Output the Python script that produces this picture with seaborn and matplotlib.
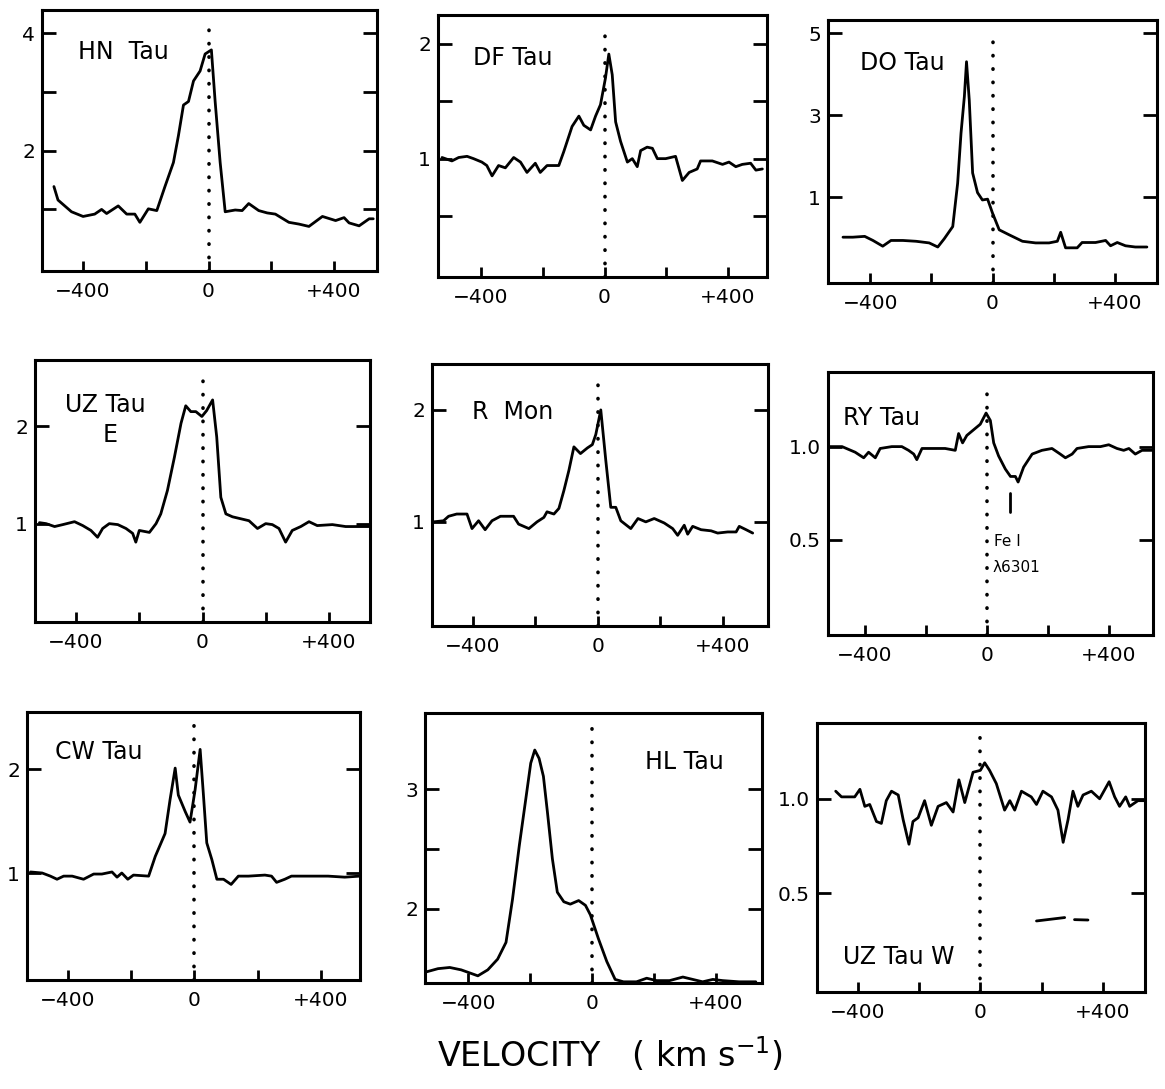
import matplotlib
matplotlib.use("Agg")
import matplotlib.pyplot as plt
import seaborn as sns
import pandas as pd

# ==============================
# Data: line profiles (velocity in km/s, normalised flux)
# ==============================
hn_v = [-493, -480, -437, -400, -363, -341, -325, -288, -261, -235, -219, -192, -165, -139, -112, -96,
        -80, -64, -48, -27, -11, 9, 21, 37, 53, 85, 107, 128, 160, 187, 213, 256, 288, 320, 363, 405,
        432, 448, 480, 512, 525]
hn_f = [1.39, 1.16, 0.96, 0.88, 0.92, 1.00, 0.93, 1.06, 0.92, 0.92, 0.78, 1.01, 0.98, 1.39, 1.80, 2.26,
        2.78, 2.84, 3.19, 3.36, 3.65, 3.72, 2.84, 1.80, 0.96, 0.99, 0.98, 1.10, 0.98, 0.94, 0.92, 0.78,
        0.75, 0.71, 0.88, 0.81, 0.86, 0.77, 0.72, 0.84, 0.84]

df_v = [-526, -494, -472, -445, -424, -397, -381, -364, -343, -321, -294, -272, -251, -224, -208, -186,
        -148, -132, -105, -83, -67, -45, -29, -13, 3, 14, 25, 36, 52, 74, 90, 106, 117, 138, 155, 171,
        198, 230, 252, 274, 300, 311, 349, 382, 403, 425, 446, 473, 490, 511]
df_f = [1.01, 0.98, 1.01, 1.02, 1.00, 0.97, 0.94, 0.85, 0.94, 0.92, 1.01, 0.97, 0.88, 0.96, 0.88, 0.94,
        0.94, 1.06, 1.28, 1.37, 1.29, 1.25, 1.37, 1.47, 1.70, 1.91, 1.73, 1.32, 1.15, 0.97, 1.00, 0.93,
        1.07, 1.10, 1.09, 1.00, 1.00, 1.02, 0.81, 0.88, 0.91, 0.98, 0.98, 0.95, 0.97, 0.93, 0.95, 0.96,
        0.90, 0.91]

do_v = [-489, -457, -418, -391, -359, -332, -293, -250, -207, -179, -158, -130, -114, -103, -92, -85,
        -76, -65, -49, -33, -16, 0, 22, 54, 98, 141, 185, 212, 223, 239, 277, 293, 337, 370, 386, 408,
        435, 467, 505]
do_f = [0.02, 0.02, 0.04, -0.06, -0.20, -0.06, -0.06, -0.08, -0.12, -0.22, -0.02, 0.28, 1.34, 2.56, 3.46,
        4.31, 3.37, 1.59, 1.11, 0.93, 0.95, 0.61, 0.20, 0.08, -0.08, -0.12, -0.12, -0.08, 0.14, -0.24,
        -0.24, -0.11, -0.11, -0.06, -0.19, -0.11, -0.19, -0.22, -0.22]

uze_v = [-516, -495, -468, -442, -405, -379, -353, -332, -316, -295, -268, -242, -221, -211, -200, -168,
         -147, -132, -111, -89, -68, -53, -37, -21, -2, 13, 32, 45, 58, 74, 95, 121, 147, 174, 200, 221,
         242, 263, 284, 311, 337, 363, 411, 453, 495, 526]
uze_f = [1.01, 1.00, 0.97, 0.99, 1.02, 0.98, 0.93, 0.86, 0.95, 1.00, 0.99, 0.95, 0.90, 0.81, 0.93, 0.91,
         1.00, 1.10, 1.34, 1.68, 2.03, 2.21, 2.15, 2.15, 2.10, 2.16, 2.27, 1.89, 1.27, 1.10, 1.07, 1.05,
         1.03, 0.95, 1.00, 0.99, 0.95, 0.81, 0.93, 0.97, 1.02, 0.98, 0.99, 0.97, 0.97, 0.97]

rmon_v = [-526, -494, -478, -452, -419, -403, -382, -361, -339, -312, -270, -254, -221, -195, -173, -163,
          -141, -125, -109, -93, -77, -56, -34, -18, -7, 9, 25, 41, 57, 73, 105, 128, 153, 180, 212, 239,
          255, 276, 287, 303, 330, 362, 383, 415, 442, 452, 474, 495]
rmon_f = [1.00, 1.01, 1.05, 1.07, 1.07, 0.94, 1.01, 0.93, 1.01, 1.05, 1.05, 0.98, 0.94, 1.00, 1.04, 1.09,
          1.07, 1.12, 1.28, 1.46, 1.67, 1.61, 1.66, 1.69, 1.78, 2.00, 1.55, 1.13, 1.13, 1.01, 0.94, 1.03,
          1.00, 1.03, 0.99, 0.94, 0.88, 0.97, 0.89, 0.96, 0.93, 0.92, 0.90, 0.91, 0.91, 0.96, 0.93, 0.90]

ry_v = [-519, -475, -432, -404, -388, -366, -350, -312, -279, -257, -240, -230, -213, -175, -137, -104,
        -93, -80, -66, -44, -22, -3, 11, 22, 38, 60, 77, 93, 102, 120, 148, 180, 213, 240, 257, 279, 295,
        333, 372, 399, 426, 448, 465, 486, 508, 541]
ry_f = [1.00, 1.00, 0.97, 0.94, 0.97, 0.94, 0.99, 1.00, 1.00, 0.98, 0.96, 0.93, 0.99, 0.99, 0.99, 0.98,
        1.07, 1.02, 1.06, 1.09, 1.12, 1.18, 1.14, 1.02, 0.95, 0.88, 0.84, 0.84, 0.81, 0.89, 0.96, 0.98,
        0.99, 0.96, 0.94, 0.96, 0.99, 1.00, 1.00, 1.01, 0.99, 0.98, 0.99, 0.96, 0.98, 0.98]
fe_mark_v = [77, 77]
fe_mark_f = [0.65, 0.75]

cw_v = [-519, -482, -456, -435, -414, -387, -351, -319, -293, -261, -245, -230, -211, -193, -145, -124,
        -93, -77, -61, -51, -29, -14, 2, 18, 28, 39, 55, 71, 92, 116, 139, 171, 223, 244, 260, 286, 307,
        360, 423, 476, 523]
cw_f = [1.01, 1.00, 0.97, 0.94, 0.97, 0.97, 0.94, 0.99, 0.99, 1.01, 0.96, 1.00, 0.94, 0.98, 0.97, 1.16,
        1.38, 1.71, 2.01, 1.75, 1.59, 1.49, 1.80, 2.19, 1.77, 1.29, 1.13, 0.94, 0.94, 0.89, 0.97, 0.97,
        0.98, 0.97, 0.91, 0.94, 0.97, 0.97, 0.97, 0.96, 0.97]

hl_v = [-540, -498, -460, -423, -369, -337, -305, -278, -257, -235, -214, -198, -185, -171, -157, -144,
        -128, -112, -91, -70, -43, -21, -5, 21, 48, 75, 102, 144, 177, 209, 251, 294, 326, 358, 391, 423,
        476, 530]
hl_f = [1.47, 1.50, 1.51, 1.49, 1.44, 1.49, 1.58, 1.72, 2.08, 2.53, 2.92, 3.22, 3.33, 3.26, 3.11, 2.81,
        2.42, 2.14, 2.06, 2.04, 2.07, 2.03, 1.95, 1.75, 1.56, 1.41, 1.39, 1.39, 1.42, 1.40, 1.40, 1.43,
        1.41, 1.39, 1.41, 1.40, 1.39, 1.39]

uzw_v = [-472, -453, -432, -410, -393, -377, -361, -339, -323, -307, -290, -268, -252, -233, -220, -203,
         -182, -160, -138, -111, -89, -70, -51, -24, 0, 14, 30, 52, 79, 96, 112, 134, 166, 183, 204, 232,
         253, 270, 286, 302, 318, 335, 362, 389, 420, 438, 454, 474, 487, 514, 536]
uzw_f = [1.04, 1.01, 1.01, 1.01, 1.05, 0.96, 0.97, 0.88, 0.87, 0.99, 1.04, 1.02, 0.89, 0.76, 0.88, 0.90,
         0.99, 0.86, 0.96, 0.98, 0.93, 1.10, 0.98, 1.14, 1.15, 1.19, 1.15, 1.08, 0.94, 0.99, 0.94, 1.04,
         1.01, 0.97, 1.04, 1.01, 0.94, 0.77, 0.89, 1.04, 0.96, 1.02, 1.04, 1.00, 1.09, 1.01, 0.96, 1.01,
         0.96, 0.99, 0.99]
bar1_v = [183, 275]
bar1_f = [0.355, 0.373]
bar2_v = [307, 351]
bar2_f = [0.362, 0.360]

x_ticks = [-400, -200, 0, 200, 400]
x_labels = ["\u2212400", "", "0", "", "+400"]

# ==============================
# Figure
# ==============================
sns.set_theme(style="ticks")
plt.rcParams["font.family"] = ["DejaVu Sans"]
plt.rcParams.update({
    "axes.linewidth": 2.2,
    "axes.edgecolor": "black",
    "text.color": "black",
    "xtick.color": "black",
    "ytick.color": "black",
})

W, H = 1165, 1089
fig = plt.figure(figsize=(W / 100, H / 100), dpi=100)


def box(l, r, t, b):
    return [l / W, 1 - b / H, (r - l) / W, (b - t) / H]


panels = [
    dict(v=hn_v, f=hn_f, name="HN  Tau", pos=box(42, 377, 10, 271), xlim=(-531, 537), ylim=(-0.05, 4.4),
         yt=[1, 2, 3, 4], yl=["", "2", "", "4"], txt=(0.107, 0.84)),
    dict(v=df_v, f=df_f, name="DF Tau", pos=box(438, 767, 15, 277), xlim=(-539, 526), ylim=(-0.03, 2.25),
         yt=[0.5, 1, 1.5, 2], yl=["", "1", "", "2"], txt=(0.106, 0.836)),
    dict(v=do_v, f=do_f, name="DO Tau", pos=box(828, 1157, 20, 283), xlim=(-538, 538), ylim=(-1.1, 5.33),
         yt=[1, 3, 5], yl=["1", "3", "5"], txt=(0.097, 0.837)),
    dict(v=uze_v, f=uze_f, name="UZ Tau", pos=box(35, 370, 360, 622), xlim=(-530, 530), ylim=(-0.01, 2.68),
         yt=[1, 2], yl=["1", "2"], txt=(0.09, 0.828)),
    dict(v=rmon_v, f=rmon_f, name="R  Mon", pos=box(432, 768, 364, 626), xlim=(-531, 544), ylim=(0.07, 2.41),
         yt=[1, 2], yl=["1", "2"], txt=(0.119, 0.817)),
    dict(v=ry_v, f=ry_f, name="RY Tau", pos=box(828, 1153, 372, 635), xlim=(-521, 544), ylim=(-0.01, 1.40),
         yt=[0.5, 1.0], yl=["0.5", "1.0"], txt=(0.046, 0.825)),
    dict(v=cw_v, f=cw_f, name="CW Tau", pos=box(27, 360, 712, 980), xlim=(-530, 524), ylim=(-0.03, 2.55),
         yt=[1, 2], yl=["1", "2"], txt=(0.084, 0.851)),
    dict(v=hl_v, f=hl_f, name="HL Tau", pos=box(425, 762, 713, 983), xlim=(-540, 550), ylim=(1.38, 3.64),
         yt=[2, 2.5, 3], yl=["2", "", "3"], txt=(0.653, 0.819)),
    dict(v=uzw_v, f=uzw_f, name="UZ Tau W", pos=box(817, 1145, 723, 992), xlim=(-533, 537), ylim=(-0.02, 1.40),
         yt=[0.5, 1.0], yl=["0.5", "1.0"], txt=(0.079, 0.13)),
]

axes = []
for p in panels:
    ax = fig.add_axes(p["pos"])
    data = pd.DataFrame({"v": p["v"], "f": p["f"]})
    sns.lineplot(data=data, x="v", y="f", ax=ax, color="black", lw=2.0, sort=False, estimator=None)
    ax.axvline(0, ymin=0, ymax=0.96, color="black", lw=2.6, ls=(0, (0.1, 3.6)), dash_capstyle="round")
    ax.set_xlim(p["xlim"])
    ax.set_ylim(p["ylim"])
    ax.set_xticks(x_ticks)
    ax.set_xticklabels(x_labels)
    ax.set_yticks(p["yt"])
    ax.set_yticklabels(p["yl"])
    ax.tick_params(axis="x", direction="in", length=7, width=2, labelsize=14.5, pad=8, top=False)
    ax.tick_params(axis="y", direction="in", length=10, width=2, labelsize=14.5, pad=5, right=True)
    ax.set_xlabel("")
    ax.set_ylabel("")
    ax.text(p["txt"][0], p["txt"][1], p["name"], transform=ax.transAxes, fontsize=17, va="center", ha="left")
    axes.append(ax)

# extra annotations
axes[3].text(0.224, 0.714, "E", transform=axes[3].transAxes, fontsize=17, va="center", ha="center")

axes[5].plot(fe_mark_v, fe_mark_f, color="black", lw=2)
axes[5].text(24, 0.49, "Fe I", fontsize=11, va="center", ha="left")
axes[5].text(18, 0.35, "\u03bb6301", fontsize=11, va="center", ha="left")

axes[8].plot(bar1_v, bar1_f, color="black", lw=2)
axes[8].plot(bar2_v, bar2_f, color="black", lw=2)

fig.text(610 / W, 1 - 1055 / H, "VELOCITY   ( km s$^{\\mathregular{-1}}$)", fontsize=24,
         ha="center", va="center")

fig.savefig("out.png", dpi=100)
